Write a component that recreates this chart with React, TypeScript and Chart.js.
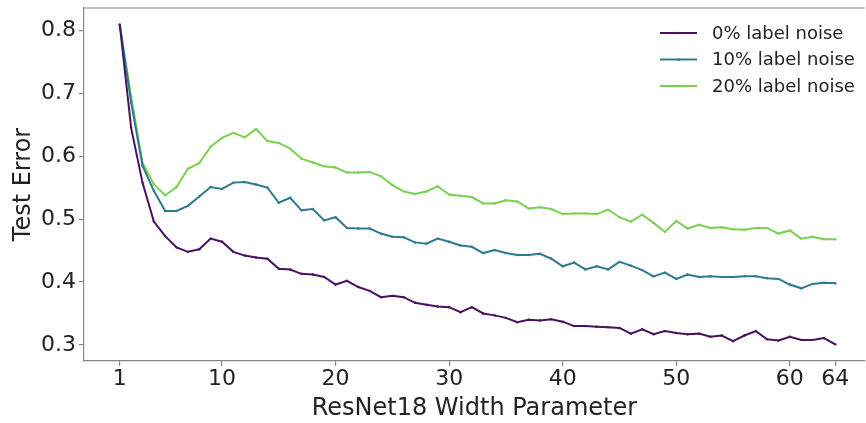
import React, { useEffect, useRef } from "react";
import { Chart, registerables } from "chart.js";

Chart.register(...registerables);

// ResNet18 width parameter (k) for each trained model
const widths = [
  1, 2, 3, 4, 5, 6, 7, 8, 9, 10, 11, 12, 13, 14, 15, 16,
  17, 18, 19, 20, 21, 22, 23, 24, 25, 26, 27, 28, 29, 30, 31, 32,
  33, 34, 35, 36, 37, 38, 39, 40, 41, 42, 43, 44, 45, 46, 47, 48,
  49, 50, 51, 52, 53, 54, 55, 56, 57, 58, 59, 60, 61, 62, 63, 64,
];

// Test error with 0% label noise
const noise0 = [
  0.809, 0.645, 0.558, 0.496, 0.473, 0.455, 0.448, 0.452, 0.469, 0.464, 0.448, 0.442, 0.439, 0.437, 0.421, 0.420,
  0.413, 0.412, 0.408, 0.396, 0.402, 0.392, 0.386, 0.376, 0.378, 0.376, 0.367, 0.364, 0.361, 0.360, 0.352, 0.360,
  0.350, 0.347, 0.343, 0.336, 0.340, 0.339, 0.341, 0.337, 0.330, 0.330, 0.329, 0.328, 0.327, 0.318, 0.325, 0.317,
  0.322, 0.319, 0.317, 0.318, 0.313, 0.315, 0.306, 0.315, 0.322, 0.309, 0.307, 0.313, 0.308, 0.308, 0.311, 0.301,
];

// Test error with 10% label noise
const noise10 = [
  0.809, 0.685, 0.585, 0.545, 0.513, 0.513, 0.521, 0.536, 0.551, 0.548, 0.558, 0.559, 0.555, 0.550, 0.526, 0.534,
  0.514, 0.516, 0.498, 0.503, 0.486, 0.485, 0.485, 0.477, 0.472, 0.471, 0.463, 0.461, 0.469, 0.464, 0.458, 0.456,
  0.446, 0.451, 0.446, 0.443, 0.443, 0.445, 0.437, 0.425, 0.431, 0.420, 0.425, 0.420, 0.432, 0.426, 0.419, 0.409,
  0.415, 0.405, 0.412, 0.408, 0.409, 0.408, 0.408, 0.409, 0.409, 0.406, 0.405, 0.396, 0.390, 0.397, 0.399, 0.398,
];

// Test error with 20% label noise
const noise20 = [
  0.809, 0.695, 0.590, 0.555, 0.538, 0.551, 0.580, 0.589, 0.615, 0.629, 0.637, 0.630, 0.643, 0.624, 0.621, 0.612,
  0.596, 0.590, 0.584, 0.582, 0.574, 0.574, 0.575, 0.568, 0.554, 0.544, 0.540, 0.544, 0.552, 0.539, 0.537, 0.535,
  0.525, 0.525, 0.530, 0.528, 0.517, 0.519, 0.516, 0.508, 0.509, 0.509, 0.508, 0.515, 0.503, 0.496, 0.507, 0.494,
  0.480, 0.497, 0.485, 0.491, 0.486, 0.487, 0.484, 0.483, 0.486, 0.486, 0.477, 0.482, 0.469, 0.472, 0.468, 0.468,
];

const seriesLabels = ["0% label noise", "10% label noise", "20% label noise"];
const seriesColors = ["#46135f", "#2e7b8e", "#7ad151"];

const xTicks = [1, 10, 20, 30, 40, 50, 60, 64];
const yTicks = [0.3, 0.4, 0.5, 0.6, 0.7, 0.8];

const FONT = "'DejaVu Sans', sans-serif";
const SPINE = "#858585";

// Top spine and an in-plot legend in the upper-right corner
const framePlugin = {
  id: "frameAndLegend",
  afterDraw(chart: Chart) {
    const { ctx, chartArea } = chart;
    ctx.save();
    ctx.strokeStyle = SPINE;
    ctx.lineWidth = 1.2;
    ctx.beginPath();
    ctx.moveTo(chartArea.left, chartArea.top);
    ctx.lineTo(chartArea.right, chartArea.top);
    ctx.stroke();

    const lineX0 = 660;
    const lineX1 = 697;
    const textX = 712;
    const rowY = [33, 59.5, 86];
    ctx.font = `18px ${FONT}`;
    ctx.textBaseline = "middle";
    ctx.textAlign = "left";
    chart.data.datasets.forEach((ds: any, i: number) => {
      const y = rowY[i];
      ctx.strokeStyle = ds.borderColor;
      ctx.lineWidth = 2;
      ctx.beginPath();
      ctx.moveTo(lineX0, y);
      ctx.lineTo(lineX1, y);
      ctx.stroke();
      ctx.fillStyle = ds.borderColor;
      ctx.beginPath();
      ctx.arc((lineX0 + lineX1) / 2, y, 1.3, 0, Math.PI * 2);
      ctx.fill();
      ctx.fillStyle = "#222";
      ctx.fillText(ds.label, textX, y + 1);
    });
    ctx.restore();
  },
};

export default function App() {
  const canvasRef = useRef<HTMLCanvasElement | null>(null);

  useEffect(() => {
    document.body.style.margin = "0";
    const canvas = canvasRef.current;
    if (!canvas) return;

    const seriesValues = [noise0, noise10, noise20];
    const datasets = seriesValues.map((vals, i) => ({
      label: seriesLabels[i],
      data: widths.map((w, j) => ({ x: w, y: vals[j] })),
      borderColor: seriesColors[i],
      backgroundColor: seriesColors[i],
      borderWidth: 2,
      pointRadius: 1.2,
      pointHoverRadius: 1.2,
      pointBorderWidth: 0,
      tension: 0,
      fill: false,
    }));

    const chart = new Chart(canvas, {
      type: "line",
      data: { datasets },
      plugins: [framePlugin],
      options: {
        animation: false,
        responsive: false,
        events: [],
        layout: { padding: { top: 8, left: 0, right: 0, bottom: 0 } },
        plugins: {
          legend: { display: false },
          tooltip: { enabled: false },
        },
        scales: {
          x: {
            type: "linear",
            min: -2.15,
            max: 66.6,
            afterBuildTicks: (scale: any) => {
              scale.ticks = xTicks.map((v) => ({ value: v }));
            },
            afterFit: (scale: any) => {
              scale.height = 62;
              scale.paddingLeft = 0;
              scale.paddingRight = 0;
            },
            ticks: {
              autoSkip: false,
              maxRotation: 0,
              padding: 0,
              color: "#222",
              font: { family: FONT, size: 22 },
              callback: (v: any) => String(v),
            },
            grid: {
              display: true,
              drawOnChartArea: false,
              drawTicks: true,
              tickLength: 5,
              color: SPINE,
              lineWidth: 1.2,
            },
            border: { display: true, color: SPINE, width: 1.2 },
            title: {
              display: true,
              text: "ResNet18 Width Parameter",
              color: "#222",
              font: { family: FONT, size: 24 },
              padding: { top: 0, bottom: 0 },
            },
          },
          y: {
            type: "linear",
            min: 0.2745,
            max: 0.8355,
            afterBuildTicks: (scale: any) => {
              scale.ticks = yTicks.map((v) => ({ value: v }));
            },
            afterFit: (scale: any) => {
              scale.width = 84;
              scale.paddingTop = 0;
              scale.paddingBottom = 0;
            },
            ticks: {
              padding: 3,
              color: "#222",
              font: { family: FONT, size: 22 },
              callback: (v: any) => Number(v).toFixed(1),
            },
            grid: {
              display: true,
              drawOnChartArea: false,
              drawTicks: true,
              tickLength: 5,
              color: SPINE,
              lineWidth: 1.2,
            },
            border: { display: true, color: SPINE, width: 1.2 },
            title: {
              display: true,
              text: "Test Error",
              color: "#222",
              font: { family: FONT, size: 24 },
              padding: { top: 9, bottom: 0 },
            },
          },
        },
      },
    });

    return () => chart.destroy();
  }, []);

  return (
    <div style={{ width: 866, height: 423, background: "#fff" }}>
      <canvas ref={canvasRef} width={866} height={423} style={{ display: "block" }} />
    </div>
  );
}
